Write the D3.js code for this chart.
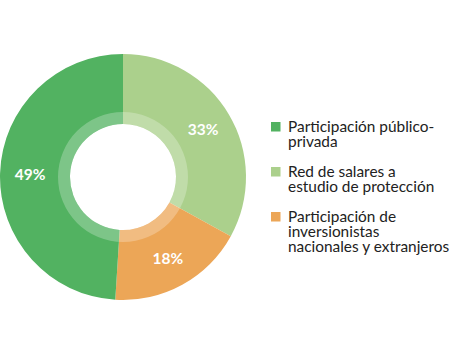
<!DOCTYPE html>
<html>
<head>
<meta charset="utf-8">
<script src="https://cdn.jsdelivr.net/npm/d3@7"></script>
<style>
  body { margin: 0; background: #fff; }
  svg { display: block; }
</style>
</head>
<body>
<div id="chart"></div>
<script>
// datos del anillo (orden en sentido horario desde arriba)
const categories = ["Red de salares a estudio de protección", "Participación de inversionistas nacionales y extranjeros", "Participación público-privada"];
const values = [33, 18, 49];
const colors = ["#abd08c", "#eca657", "#52b261"];

// la leyenda va en otro orden
const legendOrder = [2, 0, 1];
const legendLines = [
  ["Participación público-", "privada"],
  ["Red de salares a", "estudio de protección"],
  ["Participación de", "inversionistas", "nacionales y extranjeros"]
];

const width = 450, height = 353;
const cx = 123, cy = 177,
  outerRadius = 123,
  ringRadius = 65,
  innerRadius = 53,
  labelRadius = 93;

const svg = d3.select("#chart")
  .append("svg")
  .attr("width", width)
  .attr("height", height);

const data = values.map((v, i) => ({ name: categories[i], value: v, color: colors[i] }));

const arcs = d3.pie().sort(null).value(d => d.value)(data);
const arc = d3.arc().innerRadius(innerRadius).outerRadius(outerRadius);
const arcLabel = d3.arc().innerRadius(labelRadius).outerRadius(labelRadius);

const g = svg.append("g").attr("transform", `translate(${cx},${cy})`);

g.selectAll("path.slice")
  .data(arcs)
  .join("path")
  .attr("class", "slice")
  .attr("fill", d => d.data.color)
  .attr("d", arc);

// anillo interior más claro
g.append("path")
  .attr("fill", "#fff")
  .attr("fill-opacity", 0.25)
  .attr("d", d3.arc().innerRadius(innerRadius).outerRadius(ringRadius).startAngle(0).endAngle(2 * Math.PI)());

g.selectAll("text.pct")
  .data(arcs)
  .join("text")
  .attr("class", "pct")
  .attr("transform", d => `translate(${arcLabel.centroid(d)})`)
  .attr("text-anchor", "middle")
  .attr("dy", "0.36em")
  .attr("fill", "#fff")
  .attr("font-family", "Lato, sans-serif")
  .attr("font-weight", "bold")
  .attr("font-size", 15.5)
  .text(d => d.data.value + "%");

// leyenda
const legendX = 271, lineH = 15;
let y = 131.5;
legendOrder.forEach((idx, k) => {
  svg.append("rect")
    .attr("x", legendX)
    .attr("y", y - 9.5)
    .attr("width", 9.5)
    .attr("height", 9.5)
    .attr("fill", colors[idx]);
  legendLines[k].forEach((line, j) => {
    svg.append("text")
      .attr("x", legendX + 17)
      .attr("y", y + j * lineH)
      .attr("font-family", "Lato, sans-serif")
      .attr("font-size", 15.4)
      .attr("fill", "#222")
      .text(line);
  });
  y += 45;
});
</script>
</body>
</html>
